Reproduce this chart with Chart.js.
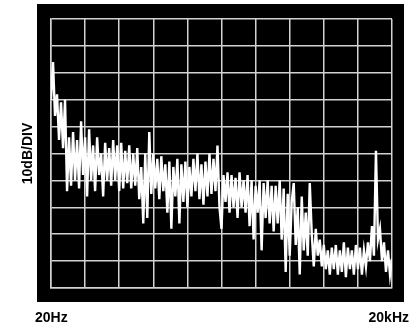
<!DOCTYPE html>
<html>
<head>
<meta charset="utf-8">
<script src="https://cdn.jsdelivr.net/npm/chart.js@4"></script>
<style>
  html, body { margin: 0; padding: 0; background: #fff; }
  #wrap { width: 411px; height: 324px; position: relative; }
</style>
</head>
<body>
<div id="wrap"><canvas id="spectrum"></canvas></div>
<script>
// spectrum trace in dB (0 = top grid line, -100 = bottom)
const levels = [
  -30, -16, -36, -28, -45, -31, -48, -30, -64, -44,
  -62, -42, -60, -45, -63, -38, -58, -44, -66, -41,
  -60, -47, -64, -44, -58, -50, -66, -46, -60, -48,
  -62, -45, -60, -47, -64, -46, -63, -49, -61, -47,
  -63, -50, -62, -48, -67, -55, -76, -50, -74, -42,
  -65, -50, -63, -52, -67, -51, -64, -54, -72, -53,
  -78, -55, -66, -52, -76, -54, -68, -53, -70, -55,
  -66, -52, -64, -50, -67, -54, -69, -53, -66, -50,
  -65, -52, -64, -47, -70, -78, -58, -68, -57, -72,
  -58, -70, -59, -74, -57, -70, -60, -72, -58, -77,
  -60, -82, -62, -72, -60, -86, -61, -74, -60, -76,
  -62, -79, -62, -76, -60, -82, -63, -94, -65, -88,
  -68, -61, -84, -70, -95, -66, -86, -72, -88, -61,
  -80, -92, -78, -88, -82, -92, -84, -93, -86, -95,
  -85, -93, -84, -95, -86, -94, -83, -96, -85, -93,
  -86, -95, -84, -93, -85, -95, -86, -92, -83, -90,
  -77, -88, -49, -82, -78, -90, -83, -94, -86, -95, -89
];
const bins = levels.map((_, i) => i);
const xLabels = ["20Hz", "20kHz"];
const yLabel = "10dB/DIV";

const frame = {
  id: "frame",
  beforeDraw(chart) {
    const { ctx, chartArea: a } = chart;
    ctx.save();
    ctx.fillStyle = "#000";
    ctx.fillRect(a.left - 14, a.top - 15, a.right - a.left + 26, a.bottom - a.top + 29);
    ctx.restore();
  },
  afterDraw(chart) {
    const { ctx, chartArea: a } = chart;
    ctx.save();
    ctx.fillStyle = "#000";
    ctx.font = "bold 14px 'Liberation Sans', Arial, sans-serif";
    ctx.textBaseline = "alphabetic";
    ctx.textAlign = "left";
    ctx.fillText(xLabels[0], a.left - 16, 322);
    ctx.textAlign = "right";
    ctx.fillText(xLabels[1], 409, 322);
    ctx.translate(32, (a.top + a.bottom) / 2);
    ctx.rotate(-Math.PI / 2);
    ctx.textAlign = "center";
    ctx.fillText(yLabel, 0, 0);
    ctx.restore();
  }
};

new Chart(document.getElementById("spectrum"), {
  type: "line",
  data: {
    labels: bins,
    datasets: [{
      data: levels,
      borderColor: "#fff",
      borderWidth: 2.4,
      pointRadius: 0,
      tension: 0,
    }]
  },
  options: {
    responsive: true,
    maintainAspectRatio: false,
    animation: false,
    layout: { padding: { left: 51, right: 19, top: 19, bottom: 36 } },
    plugins: { legend: { display: false }, tooltip: { enabled: false } },
    scales: {
      x: {
        type: "linear",
        min: 0,
        max: levels.length - 1,
        ticks: { display: false, stepSize: (levels.length - 1) / 10 },
        grid: { color: "#d2d2d2", lineWidth: 1.5, drawTicks: false },
        border: { color: "#d2d2d2", width: 1.5 },
      },
      y: {
        min: -100,
        max: 0,
        ticks: { display: false, stepSize: 10 },
        grid: { color: "#d2d2d2", lineWidth: 1.5, drawTicks: false },
        border: { color: "#d2d2d2", width: 1.5 },
      },
    },
  },
  plugins: [frame],
});
</script>
</body>
</html>
